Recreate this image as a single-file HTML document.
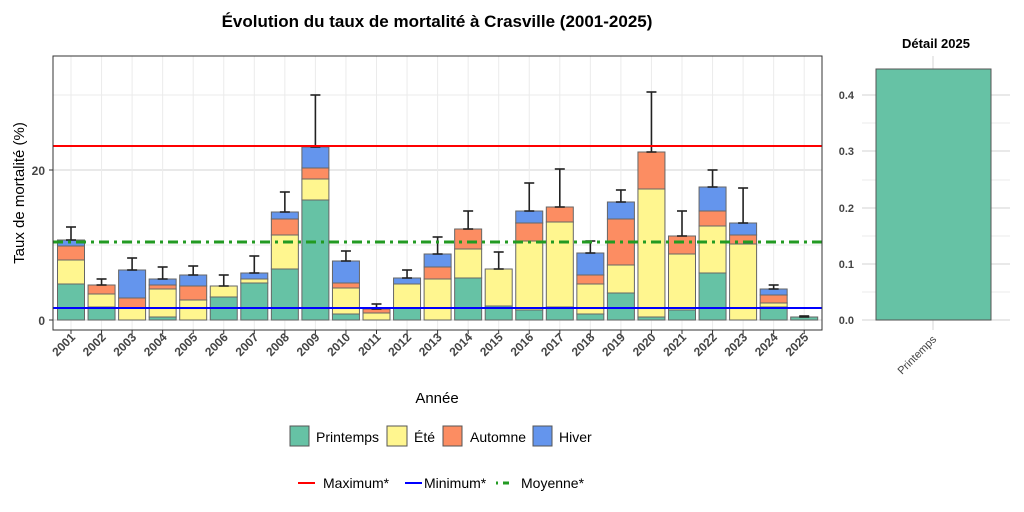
<!DOCTYPE html>
<html><head><meta charset="utf-8"><style>
body{margin:0;background:#fff;}
svg{display:block;font-family:"Liberation Sans",sans-serif;}
</style></head><body>
<svg id="s" width="1024" height="512" xmlns="http://www.w3.org/2000/svg">
<rect width="1024" height="512" fill="#fff"/>
<text x="437" y="27" font-size="17" font-weight="bold" text-anchor="middle">Évolution du taux de mortalité à Crasville (2001-2025)</text>
<g id="grid"></g>
<g id="bars"></g>
<line x1="53" x2="822" y1="146" y2="146" stroke="#f00" stroke-width="2"/>
<line x1="53" x2="822" y1="242" y2="242" stroke="#229a22" stroke-width="3" stroke-dasharray="10,5,3,5"/>
<line x1="53" x2="822" y1="308" y2="308" stroke="#00f" stroke-width="2"/>
<rect x="53" y="56" width="769" height="274" fill="none" stroke="#333" stroke-width="1"/>
<text x="45" y="175" font-size="12" font-weight="bold" fill="#444" text-anchor="end">20</text>
<text x="45" y="325" font-size="12" font-weight="bold" fill="#444" text-anchor="end">0</text>
<line x1="49" x2="53" y1="170" y2="170" stroke="#333"/>
<line x1="49" x2="53" y1="320" y2="320" stroke="#333"/>
<text transform="translate(24,193) rotate(-90)" font-size="15" text-anchor="middle">Taux de mortalité (%)</text>
<text x="437" y="403" font-size="15" text-anchor="middle">Année</text>
<g id="xl"></g>
<text x="936" y="48" font-size="13" font-weight="bold" text-anchor="middle">Détail 2025</text>
<g stroke="#ebebeb" stroke-width="1">
<line x1="862" x2="1010" y1="123" y2="123"/><line x1="862" x2="1010" y1="180" y2="180"/><line x1="862" x2="1010" y1="236" y2="236"/><line x1="862" x2="1010" y1="292" y2="292"/>
</g>
<g stroke="#dcdcdc" stroke-width="1.2">
<line x1="862" x2="1010" y1="95" y2="95"/><line x1="862" x2="1010" y1="151" y2="151"/><line x1="862" x2="1010" y1="208" y2="208"/><line x1="862" x2="1010" y1="264" y2="264"/><line x1="862" x2="1010" y1="320" y2="320"/>
<line x1="933" x2="933" y1="56" y2="330"/>
</g>
<rect x="876" y="69" width="115" height="251" fill="#66c2a5" stroke="#555"/>
<g font-size="11" font-weight="bold" fill="#444" text-anchor="end">
<text x="854" y="99">0.4</text><text x="854" y="155">0.3</text><text x="854" y="212">0.2</text><text x="854" y="268">0.1</text><text x="854" y="324">0.0</text>
</g>
<text transform="translate(937,340) rotate(-45)" font-size="11" fill="#444" text-anchor="end">Printemps</text>
<g font-size="14">
<rect x="290" y="426" width="19" height="20" fill="#66c2a5" stroke="#555"/><text x="316" y="442">Printemps</text>
<rect x="387" y="426" width="20" height="20" fill="#fff68f" stroke="#555"/><text x="414" y="442">Été</text>
<rect x="443" y="426" width="19" height="20" fill="#fc8d62" stroke="#555"/><text x="470" y="442">Automne</text>
<rect x="533" y="426" width="19" height="20" fill="#6495ed" stroke="#555"/><text x="559" y="442">Hiver</text>
<line x1="298" x2="315" y1="483" y2="483" stroke="#f00" stroke-width="2"/><text x="323" y="488">Maximum*</text>
<line x1="405" x2="422" y1="483" y2="483" stroke="#00f" stroke-width="2"/><text x="424" y="488">Minimum*</text>
<line x1="496" x2="512" y1="483" y2="483" stroke="#229a22" stroke-width="3" stroke-dasharray="2,5,6,5"/><text x="521" y="488">Moyenne*</text>
</g>
</svg>
<script>
(function(){
var E=[227,279,258,267,266,275,256,192,95,251,304,270,237,211,252,183,169,241,190,92,211,170,188,285,316];
var ns="http://www.w3.org/2000/svg";
function el(p,t,a){var e=document.createElementNS(ns,t);for(var k in a)e.setAttribute(k,a[k]);p.appendChild(e);return e;}
var g=document.getElementById('grid'),b=document.getElementById('bars'),xl=document.getElementById('xl');
[95,245].forEach(function(y){el(g,'line',{x1:53,x2:822,y1:y,y2:y,stroke:'#ebebeb'});});
[170,320].forEach(function(y){el(g,'line',{x1:53,x2:822,y1:y,y2:y,stroke:'#dcdcdc','stroke-width':1.2});});
var S=[
[240,246,260,284],[null,285,294,307],[270,298,308,null],[279,285,289,317],[275,286,300,null],
[null,null,286,297],[273,null,279,283],[212,219,235,269],[147,168,179,200],[261,283,288,314],
[null,309,313,null],[278,null,284,308],[254,267,279,null],[null,229,249,278],[null,null,269,306],
[211,223,241,310],[null,207,222,307],[253,275,284,314],[202,219,265,293],[null,152,189,317],
[null,236,254,310],[187,211,226,273],[223,235,244,null],[289,295,303,307],[null,null,null,317]];
var cols=['#6495ed','#fc8d62','#fff68f','#66c2a5'];
for(var i=0;i<25;i++){
 var cx=71+i*30.55,s=S[i],err=E[i];
 el(g,'line',{x1:cx,x2:cx,y1:56,y2:330,stroke:'#ebebeb'});
 var tp=null;
 for(var j=0;j<4;j++){ if(s[j]==null)continue; if(tp==null)tp=s[j];
  var bot=320; for(var k=j+1;k<4;k++){if(s[k]!=null){bot=s[k];break;}}
  el(b,'rect',{x:cx-13.5,y:s[j],width:27,height:bot-s[j],fill:cols[j],stroke:'#666','stroke-width':1});}
 el(b,'line',{x1:cx,x2:cx,y1:err,y2:tp,stroke:'#222','stroke-width':1.6});
 el(b,'line',{x1:cx-5,x2:cx+5,y1:err,y2:err,stroke:'#222','stroke-width':1.6});
 el(b,'line',{x1:cx-5,x2:cx+5,y1:tp,y2:tp,stroke:'#222','stroke-width':1.6});
 el(xl,'line',{x1:cx,x2:cx,y1:330,y2:334,stroke:'#333'});
 var t=el(xl,'text',{transform:'translate('+(cx+5)+',338) rotate(-45)','font-size':12,'font-weight':'bold',fill:'#444','text-anchor':'end'});
 t.textContent=2001+i;
}
})();
</script>
</body></html>
